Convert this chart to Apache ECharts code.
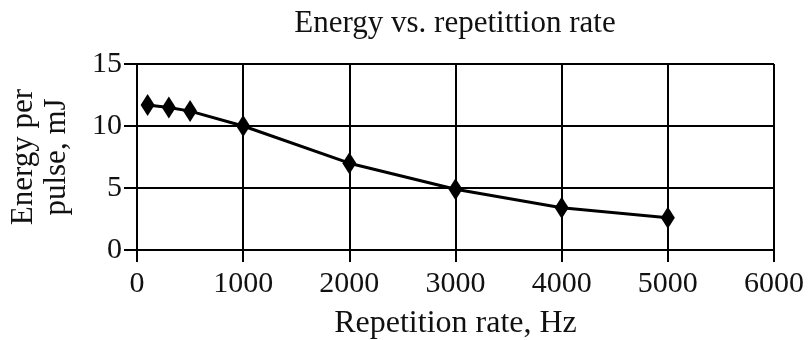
<!DOCTYPE html>
<html>
<head>
<meta charset="utf-8">
<script src="https://cdn.jsdelivr.net/npm/echarts@6/dist/echarts.min.js"></script>
<style>html,body{margin:0;padding:0;background:#fff;}#c{width:808px;height:340px;}</style>
</head>
<body>
<div id="c"></div>
<script>
const titleText = "Energy vs. repetittion rate";
const xAxisName = "Repetition rate, Hz";
const yAxisName = "Energy per\npulse, mJ";
const repRate = [100, 300, 500, 1000, 2000, 3000, 4000, 5000];
const energy = [11.7, 11.5, 11.2, 10.0, 7.0, 4.9, 3.4, 2.6];

const font = "Liberation Serif";
const chart = echarts.init(document.getElementById('c'), null, {renderer: 'canvas'});
chart.setOption({
  backgroundColor: '#fff',
  animation: false,
  title: {
    text: titleText, left: 450, top: 3, textAlign: 'center',
    textStyle: {fontFamily: font, fontSize: 31, fontWeight: 'normal', color: '#111'}
  },
  grid: {left: 137, right: 34, top: 64, bottom: 90, containLabel: false, outerBoundsMode: 'none'},
  xAxis: {
    type: 'value', min: 0, max: 6000, interval: 1000,
    name: xAxisName, nameLocation: 'middle', nameGap: 58,
    nameTextStyle: {fontFamily: font, fontSize: 32, color: '#111'},
    axisLine: {show: true, lineStyle: {color: '#000', width: 2}},
    axisTick: {show: true, inside: false, length: 12, lineStyle: {color: '#000', width: 2}},
    axisLabel: {fontFamily: font, fontSize: 30, color: '#111', margin: 19, formatter: v => String(v)},
    splitLine: {show: true, lineStyle: {color: '#000', width: 2}}
  },
  yAxis: {
    type: 'value', min: 0, max: 15, interval: 5,
    name: yAxisName, nameLocation: 'middle', nameGap: 64, nameRotate: 90,
    nameTextStyle: {fontFamily: font, fontSize: 31, color: '#111', lineHeight: 33, align: 'center'},
    axisLine: {show: true, lineStyle: {color: '#000', width: 2}},
    axisTick: {show: true, inside: false, length: 13, lineStyle: {color: '#000', width: 2}},
    axisLabel: {fontFamily: font, fontSize: 30, color: '#111', margin: 15, formatter: v => String(v)},
    splitLine: {show: true, lineStyle: {color: '#000', width: 2}}
  },
  series: [{
    type: 'line',
    data: repRate.map((x, i) => [x, energy[i]]),
    symbol: 'diamond', symbolSize: [14, 22],
    lineStyle: {color: '#000', width: 3},
    itemStyle: {color: '#000'}
  }]
});
</script>
</body>
</html>
